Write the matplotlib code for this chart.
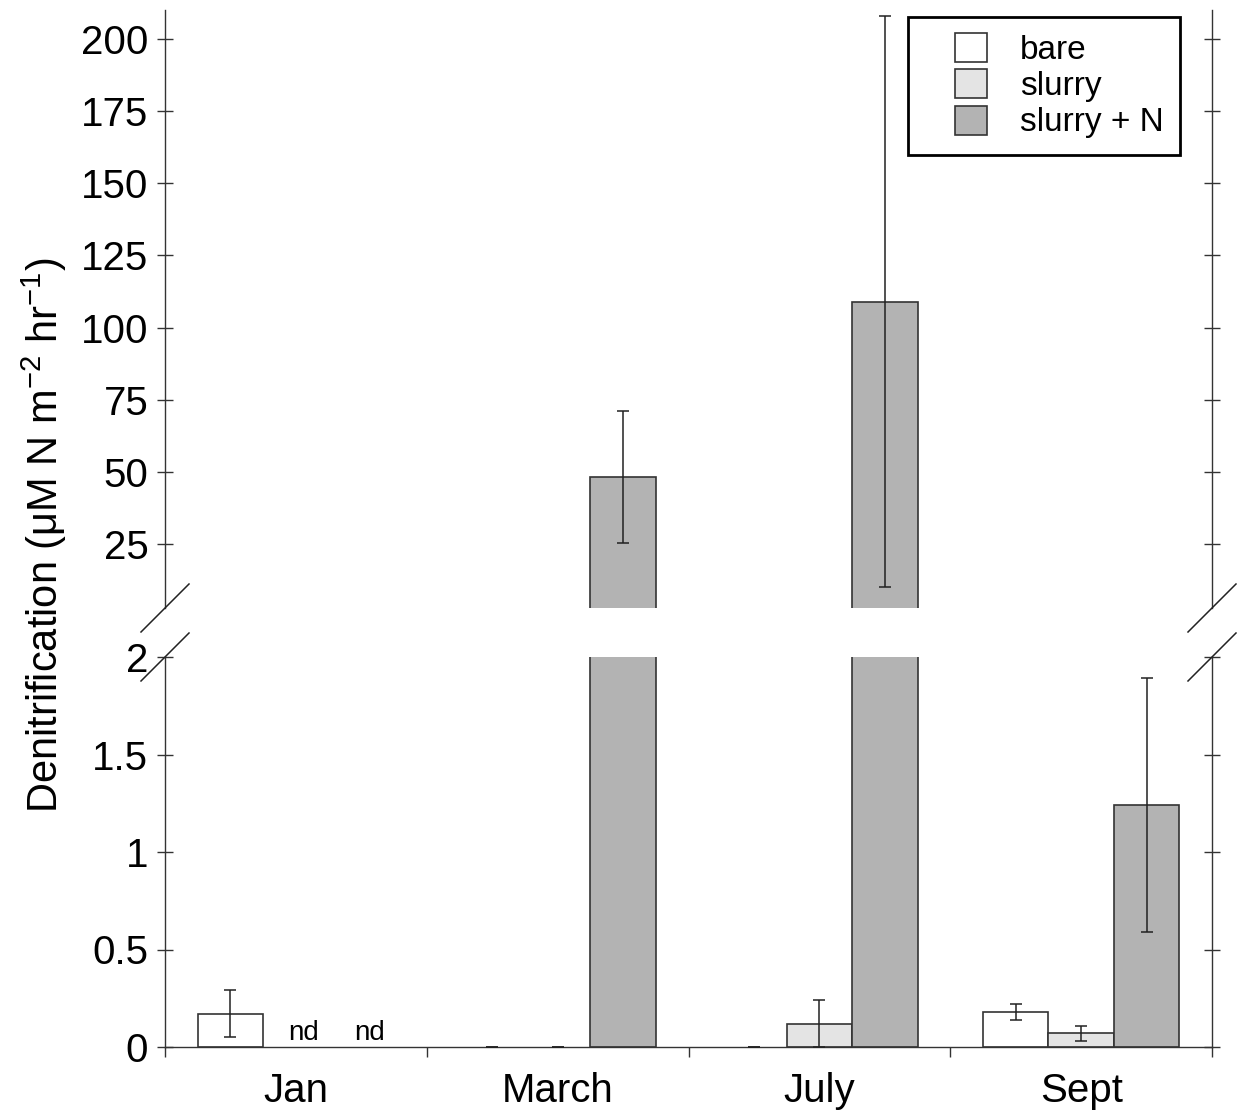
import numpy as np
import matplotlib
matplotlib.use('Agg')
import matplotlib.pyplot as plt
from matplotlib.lines import Line2D
from matplotlib.patches import Rectangle, Patch

plt.rcParams['font.family'] = ['Liberation Sans', 'DejaVu Sans']
plt.rcParams['mathtext.fontset'] = 'custom'
plt.rcParams['mathtext.rm'] = 'Liberation Sans'
plt.rcParams['mathtext.it'] = 'Liberation Sans:italic'

months = ['Jan', 'March', 'July', 'Sept']
series = ['bare', 'slurry', 'slurry + N']
colors = ['#ffffff', '#e4e4e4', '#b3b3b3']

# nan = not determined (nd)
bare = [0.17, 0.0, 0.0, 0.18]
bare_err = [0.12, 0.0, 0.0, 0.04]
slurry = [np.nan, 0.0, 0.12, 0.07]
slurry_err = [np.nan, 0.0, 0.12, 0.04]
slurry_n = [np.nan, 48.2, 109.0, 1.24]
slurry_n_err = [np.nan, 22.8, 98.8, 0.65]

values = [bare, slurry, slurry_n]
errors = [bare_err, slurry_err, slurry_n_err]

fig = plt.figure(figsize=(12.38, 11.16), dpi=100)
W, H = 1238, 1116
left, right = 165, 1212
ax_top = fig.add_axes([left / W, 1 - 608 / H, (right - left) / W, (608 - 10) / H])
ax_bot = fig.add_axes([left / W, 1 - 1047 / H, (right - left) / W, (1047 - 657) / H])

x = np.arange(len(months))
width = 0.25
edge = '#333333'

for ax in (ax_top, ax_bot):
    for i, (vals, errs) in enumerate(zip(values, errors)):
        pos = x + (i - 1) * width
        v = np.array(vals, dtype=float)
        e = np.array(errs, dtype=float)
        h = np.nan_to_num(v)
        # zero / missing values get no outline, only the error caps
        ec = [edge if hv > 0 else 'none' for hv in h]
        ax.bar(pos, h, width, color=colors[i], edgecolor=ec,
               linewidth=1.2, zorder=2)
        ax.errorbar(pos, v, yerr=e, fmt='none', ecolor='#222222',
                    elinewidth=1.1, capsize=4.5, capthick=1.1, zorder=3)
    ax.set_xlim(-0.5, 3.5)
    for s in ('left', 'right', 'bottom'):
        ax.spines[s].set_color(edge)
        ax.spines[s].set_linewidth(1.0)
    ax.spines['top'].set_visible(False)
    ax.tick_params(axis='y', which='both', direction='inout', length=12,
                   width=1.0, color=edge, right=True, labelsize=29, pad=6)

ax_top.set_ylim(2.82, 210.05)
ax_top.set_yticks([25, 50, 75, 100, 125, 150, 175, 200])
ax_top.spines['bottom'].set_visible(False)
ax_top.tick_params(axis='x', which='both', bottom=False, labelbottom=False)

ax_bot.set_ylim(0, 2)
ax_bot.set_yticks([0, 0.5, 1, 1.5, 2])
ax_bot.set_yticklabels(['0', '0.5', '1', '1.5', '2'])
ax_bot.set_xticks(x)
ax_bot.set_xticklabels(months)
ax_bot.set_xticks(np.arange(-0.5, 4.0, 1.0), minor=True)
ax_bot.tick_params(axis='x', which='major', length=0, labelsize=29, pad=18)
ax_bot.tick_params(axis='x', which='minor', direction='out', length=7,
                   width=1.0, color=edge)

# nd labels for Jan slurry and slurry + N
for i in (1, 2):
    if np.isnan(values[i][0]):
        ax_bot.text(x[0] + (i - 1) * width + 0.03, 0.035, 'nd', ha='center',
                    va='baseline', fontsize=20)

# axis break marks
for xb in (left, right):
    for yb in (608, 657):
        fig.add_artist(Line2D([(xb - 24) / W, (xb + 24) / W],
                              [1 - (yb + 24) / H, 1 - (yb - 24) / H],
                              color='#222222', linewidth=1.1))

fig.text(44 / W, 1 - 535 / H, 'Denitrification (μM N m$^{-2}$ hr$^{-1}$)',
         rotation=90, ha='center', va='center', fontsize=30)

# legend
fig.add_artist(Rectangle((908 / W, 1 - 155 / H), 272 / W, 138 / H,
                         transform=fig.transFigure, fill=False,
                         edgecolor='black', linewidth=2))
handles = [Patch(facecolor=c, edgecolor=edge, linewidth=1.2) for c in colors]
ax_top.legend(handles, series, loc='upper left',
              bbox_to_anchor=(955 / W, 1 - 33 / H),
              bbox_transform=fig.transFigure, frameon=False, fontsize=24,
              borderpad=0, handlelength=0.96, handleheight=0.96,
              labelspacing=0.1, handletextpad=1.0, borderaxespad=0)

fig.savefig('out.png', dpi=100)
